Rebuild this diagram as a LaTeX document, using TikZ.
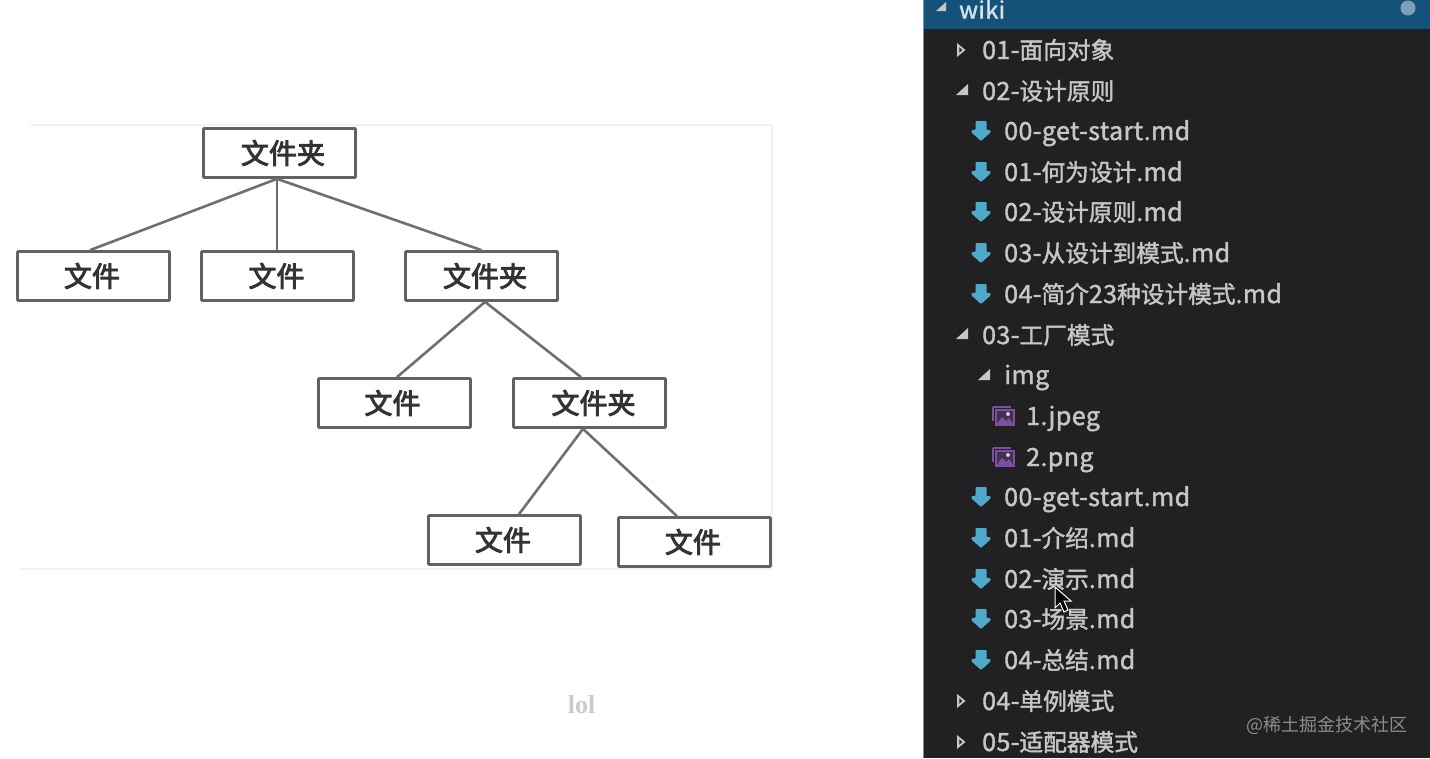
\documentclass[tikz,border=0pt]{standalone}
\usepackage{fontspec}
\setmainfont{Noto Sans CJK SC}
\newfontfamily\serifl{Liberation Serif}
\newfontfamily\cjkf[FakeBold=1.6]{Noto Sans CJK SC}
\newfontfamily\latf[FakeBold=1.6,LetterSpace=1.7]{Noto Sans CJK SC}
\newfontfamily\boxf[FakeBold=3.2]{Noto Sans CJK SC}
\newcommand{\lat}[1]{{\latf\fontsize{25}{25}\selectfont #1}}
\definecolor{sidebg}{HTML}{212123}
\definecolor{headbg}{HTML}{15527A}
\definecolor{rowtxt}{HTML}{C6C6C6}
\definecolor{mdblue}{HTML}{4FA9CB}
\definecolor{imgpurple}{HTML}{7D4FA0}
\definecolor{boxline}{HTML}{626262}
\tikzset{
  treebox/.style={draw=boxline,line width=2.7pt,minimum width=152pt,minimum height=49pt,inner sep=0pt,rounded corners=0.8pt,font=\boxf\fontsize{28}{28}\selectfont,text=black!80},
  link/.style={draw=boxline!92,line width=2.6pt},
  row/.style={anchor=base west,inner sep=0pt,text=rowtxt,font=\cjkf\fontsize{23.7}{23.7}\selectfont},
  mdicon/.pic={\fill[mdblue,rounded corners=0.8pt] (-5.5,-10)--(5.5,-10)--(5.5,-1)--(9.5,-1)--(9.5,1.5)--(0,10)--(-9.5,1.5)--(-9.5,-1)--(-5.5,-1)--cycle;},
  imgicon/.pic={
    \draw[imgpurple,line width=1.6pt] (-10,-9)--(-10,5);
    \draw[imgpurple,line width=1.6pt] (-10,-9)--(8,-9);
    \fill[imgpurple!35!sidebg] (-7,-6) rectangle (11,9);
    \draw[imgpurple,line width=1.8pt] (-7,-6) rectangle (11,9);
    \fill[imgpurple] (-7,9)--(-1,1)--(3,5)--(6,2)--(11,9)--cycle;
    \fill[white!70!imgpurple] (5,-2) circle (2);},
  tri open/.pic={\fill[rowtxt] (-4,-7)--(4.5,0)--(-4,7)--cycle; \fill[sidebg] (-1.6,-2.6)--(1.2,0)--(-1.6,2.6)--cycle;},
  tri down/.pic={\fill[rowtxt] (6,-6)--(6,5)--(-6,5)--cycle;},
}
\begin{document}
\begin{tikzpicture}[x=1pt,y=-1pt]
\useasboundingbox (0,0) rectangle (1430,758);
\fill[white] (0,0) rectangle (1430,758);
% picture frame
\draw[black!5,line width=1.2pt] (30,125)--(772,125)--(772,569)--(20,569);
% tree
\node[treebox] (root) at (279.5,153) {\kern7pt 文件夹};
\node[treebox] (f1) at (93.5,276) {\kern-3pt 文件};
\node[treebox] (f2) at (277.5,276) {\kern-2pt 文件};
\node[treebox] (d2) at (481.5,276) {\kern7pt 文件夹};
\node[treebox] (f3) at (394.5,403) {\kern-4pt 文件};
\node[treebox] (d3) at (589.5,403) {\kern8pt 文件夹};
\node[treebox] (f4) at (504.5,540) {\kern-3pt 文件};
\node[treebox] (f5) at (694.5,542) {\kern-3pt 文件};
\draw[link] ([xshift=-2.5pt]root.south) -- ([xshift=-3.5pt]f1.north);
\draw[link] ([xshift=-2.5pt]root.south) -- ([xshift=-0.5pt]f2.north);
\draw[link] ([xshift=-2.5pt]root.south) -- (d2.north);
\draw[link] ([xshift=3.5pt]d2.south) -- ([xshift=2.5pt]f3.north);
\draw[link] ([xshift=3.5pt]d2.south) -- ([xshift=-8.5pt]d3.north);
\draw[link] ([xshift=-6.5pt]d3.south) -- ([xshift=14.5pt]f4.north);
\draw[link] ([xshift=-6.5pt]d3.south) -- ([xshift=-17.5pt]f5.north);
\node[inner sep=0pt,text=black!20,font=\serifl\bfseries\fontsize{26}{26}\selectfont] (lol) at (581.5,705) {lol};
% sidebar
\fill[sidebg] (923,0) rectangle (1430,758);
\fill[headbg] (923,0) rectangle (1430,29);
\fill[black!45] (923,0) rectangle (924,758);
\fill[rowtxt] (946,2)--(946,11)--(936,11)--cycle;
\node[row,text=white!82!headbg,font=\cjkf\fontsize{23}{23}\selectfont] (wiki) at (959,18.5) {\lat{\fontsize{23.5}{23.5}\selectfont wiki}};
\fill[white!45!headbg] (1408,8) circle (7.5);
\pic at (961,50) {tri open};
\pic at (962,90) {tri down};
\pic at (962,334) {tri down};
\pic at (984,375) {tri down};
\pic at (961,701) {tri open};
\pic at (961,742) {tri open};
\node[row] (r1) at (982,59) {\lat{01-}面向对象};
\node[row] (r2) at (982,100) {\lat{02-}设计原则};
\node[row] (r3) at (1004,140) {\lat{00-get-start.md}};
\node[row] (r4) at (1004,181) {\lat{01-}何为设计\lat{.md}};
\node[row] (r5) at (1004,221) {\lat{02-}设计原则\lat{.md}};
\node[row] (r6) at (1004,262) {\lat{03-}从设计到模式\lat{.md}};
\node[row] (r7) at (1004,303) {\lat{04-}简介\lat{23}种设计模式\lat{.md}};
\node[row] (r8) at (982,344) {\lat{03-}工厂模式};
\node[row] (r9) at (1004,384) {\lat{img}};
\node[row] (r10) at (1026,425) {\lat{1.jpeg}};
\node[row] (r11) at (1026,466) {\lat{2.png}};
\node[row] (r12) at (1004,506) {\lat{00-get-start.md}};
\node[row] (r13) at (1004,547) {\lat{01-}介绍\lat{.md}};
\node[row] (r14) at (1004,588) {\lat{02-}演示\lat{.md}};
\node[row] (r15) at (1004,628) {\lat{03-}场景\lat{.md}};
\node[row] (r16) at (1004,669) {\lat{04-}总结\lat{.md}};
\node[row] (r17) at (982,710) {\lat{04-}单例模式};
\node[row] (r18) at (982,751) {\lat{05-}适配器模式};
\foreach \yy in {131,172,212,253,294,497,538,579,619,660} \pic at (981,\yy) {mdicon};
\pic at (1003,416) {imgicon};
\pic at (1003,457) {imgicon};
% mouse pointer
\fill[black,draw=white!80,line width=1pt] (1055,587)--(1055,608)--(1060,603)--(1064,612)--(1068,610)--(1064,601)--(1071,601)--cycle;
% watermark
\node[anchor=base west,inner sep=0pt,text=white!55!black,font=\fontsize{18}{18}\selectfont] (wm) at (1246,731) {@稀土掘金技术社区};
\end{tikzpicture}
\end{document}
